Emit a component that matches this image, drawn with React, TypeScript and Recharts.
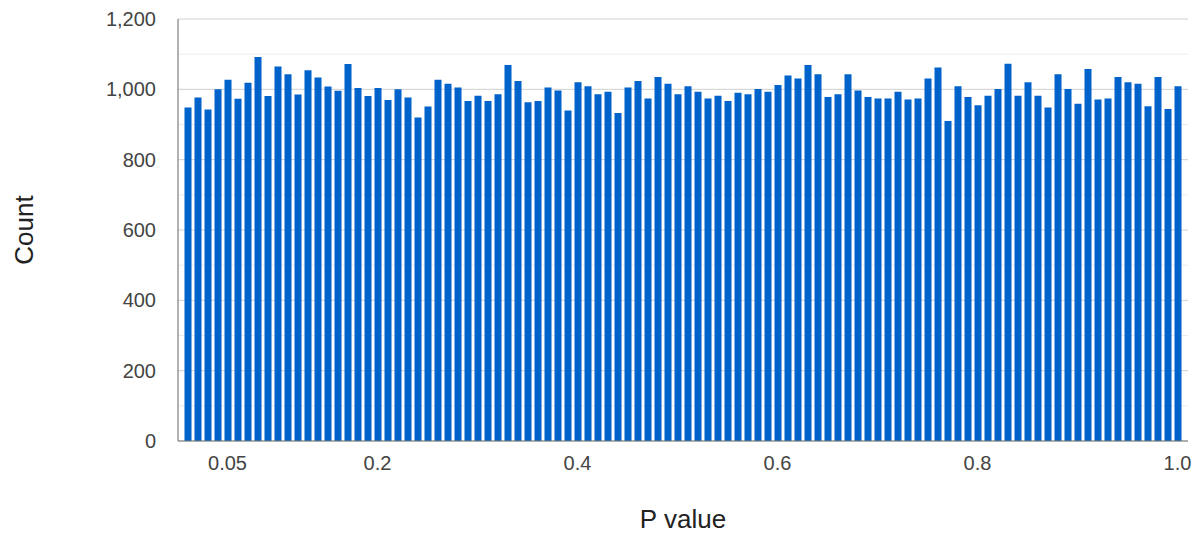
import { BarChart, Bar, XAxis, YAxis, CartesianGrid } from "recharts";

/* ── P value histogram: 100 bins of width 0.01 ── */

const COUNTS = [
  948, 977, 943, 1000, 1027, 973, 1019, 1092, 981, 1065,
  1043, 985, 1054, 1034, 1008, 996, 1072, 1004, 981, 1004,
  970, 1000, 977, 920, 951, 1027, 1016, 1005, 967, 982,
  967, 986, 1069, 1024, 963, 967, 1005, 997, 940, 1020,
  1009, 986, 993, 933, 1005, 1024, 974, 1035, 1016, 986,
  1009, 993, 974, 982, 967, 990, 986, 1001, 993, 1012,
  1039, 1031, 1069, 1043, 978, 986, 1043, 997, 978, 974,
  974, 993, 971, 974, 1031, 1062, 910, 1009, 978, 955,
  982, 1001, 1073, 982, 1020, 982, 948, 1043, 1001, 959,
  1058, 971, 974, 1035, 1020, 1016, 952, 1035, 944, 1009,
];

// upper edge of each bin
const BIN_ENDS = COUNTS.map((_, i) => (i + 1) / 100);

const X_TICKS = [0.05, 0.2, 0.4, 0.6, 0.8, 1];
const Y_TICKS = [0, 200, 400, 600, 800, 1000, 1200];
const Y_MINOR = [100, 300, 500, 700, 900, 1100];

const data = BIN_ENDS.map((bin, i) => ({ bin, count: COUNTS[i] }));

const FONT = "Arial, 'Liberation Sans', Helvetica, sans-serif";

export default function App() {
  return (
    <div style={{ position: "absolute", left: 0, top: 0, background: "#fff" }}>
      <BarChart
        width={1196}
        height={535}
        data={data}
        margin={{ top: 19, right: 8, bottom: 0, left: 0 }}
      >
        <CartesianGrid
          vertical={false}
          horizontalValues={Y_MINOR}
          stroke="#ececec"
          strokeWidth={1}
        />
        <CartesianGrid
          vertical={false}
          horizontalValues={Y_TICKS}
          stroke="#d0d0d0"
          strokeWidth={1}
        />
        <XAxis
          dataKey="bin"
          type="category"
          ticks={X_TICKS}
          interval={0}
          height={94}
          padding={{ left: 4.5, right: 5.5 }}
          tickFormatter={(v: number) => (v === 1 ? "1.0" : String(v))}
          tick={{ fill: "#444", fontSize: 20, fontFamily: FONT }}
          tickLine={false}
          tickSize={0}
          tickMargin={15}
          axisLine={{ stroke: "#777" }}
          label={{
            value: "P value",
            position: "insideBottom",
            offset: 7,
            fill: "#222",
            fontSize: 26,
            fontFamily: FONT,
          }}
        />
        <YAxis
          domain={[0, 1200]}
          ticks={Y_TICKS}
          width={178}
          tickFormatter={(v: number) => v.toLocaleString("en-US")}
          tick={{ fill: "#444", fontSize: 20, fontFamily: FONT }}
          tickLine={false}
          tickSize={0}
          tickMargin={22}
          axisLine={{ stroke: "#666" }}
          label={{
            value: "Count",
            angle: -90,
            position: "insideLeft",
            offset: 24,
            fill: "#222",
            fontSize: 26,
            fontFamily: FONT,
            style: { textAnchor: "middle" },
          }}
        />
        <Bar dataKey="count" fill="#0063cc" barSize={7} isAnimationActive={false} />
      </BarChart>
    </div>
  );
}
